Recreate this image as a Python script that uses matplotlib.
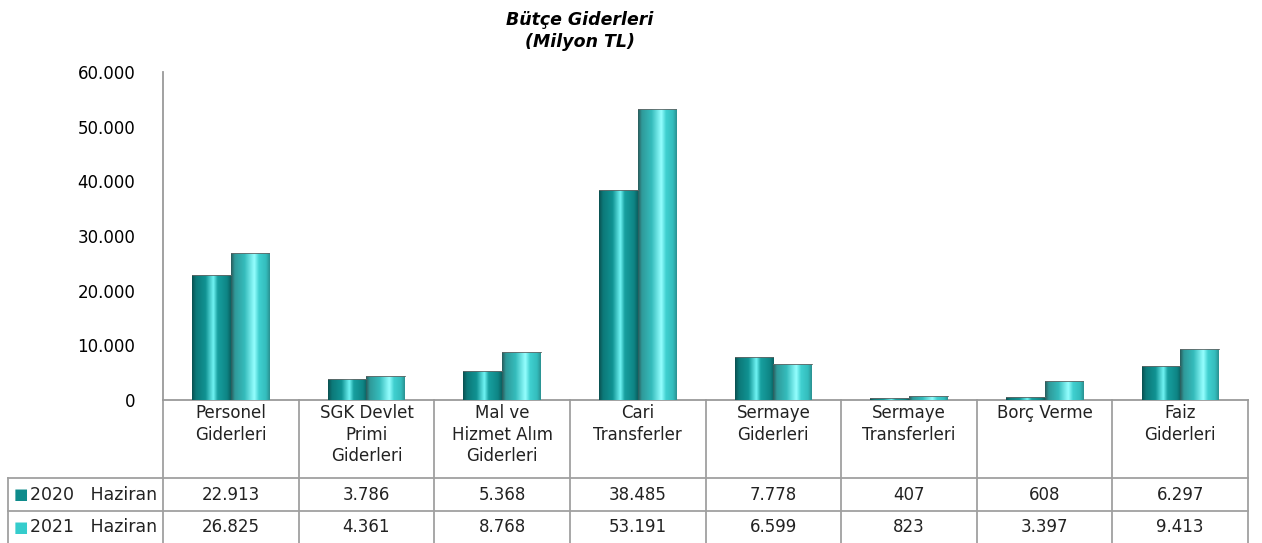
import numpy as np
import matplotlib
matplotlib.use("Agg")
import matplotlib.pyplot as plt
from matplotlib.colors import LinearSegmentedColormap

categories = ["Personel\nGiderleri", "SGK Devlet\nPrimi\nGiderleri", "Mal ve\nHizmet Alım\nGiderleri",
              "Cari\nTransferler", "Sermaye\nGiderleri", "Sermaye\nTransferleri", "Borç Verme", "Faiz\nGiderleri"]
series_names = ["2020   Haziran", "2021   Haziran"]
values_2020 = [22913, 3786, 5368, 38485, 7778, 407, 608, 6297]
values_2021 = [26825, 4361, 8768, 53191, 6599, 823, 3397, 9413]
yticks = [0, 10000, 20000, 30000, 40000, 50000, 60000]

plt.rcParams['font.family'] = ['DejaVu Sans']
W, H = 1262, 543
fig = plt.figure(figsize=(W / 100, H / 100), dpi=100)
L, R, B, T = 163, 1248, 400, 72
ax = fig.add_axes([L / W, 1 - B / H, (R - L) / W, (B - T) / H])

n = len(categories)
x = np.arange(n)
bw = 0.285
series = [values_2020, values_2021]
offs = [-bw / 2, bw / 2]
face = ["#0e8b8b", "#35cccc"]
cmaps = [
    LinearSegmentedColormap.from_list("c0", [(0, "#0a4f4f"), (0.1, "#0c7878"), (0.35, "#109393"),
                                             (0.55, "#70f4f4"), (0.66, "#17a0a0"), (0.9, "#0e8585"), (1, "#0a6060")]),
    LinearSegmentedColormap.from_list("c1", [(0, "#2a5a5a"), (0.1, "#2f9a9a"), (0.35, "#35bcbc"),
                                             (0.6, "#95ffff"), (0.72, "#40d0d0"), (0.9, "#34bdbd"), (1, "#2a9090")]),
]
grad = np.linspace(0, 1, 256).reshape(1, -1)
for s, vals in enumerate(series):
    bars = ax.bar(x + offs[s], vals, width=bw, color=face[s], edgecolor="none", zorder=2)
    for p in bars:
        x0, y0 = p.get_x(), p.get_y()
        w, h = p.get_width(), p.get_height()
        im = ax.imshow(grad, cmap=cmaps[s], extent=(x0, x0 + w, y0, y0 + h),
                       aspect="auto", zorder=3, interpolation="bilinear")
        im.set_clip_path(p)
        ax.plot([x0, x0 + w], [y0 + h, y0 + h], color="#666666", lw=0.6, zorder=4)

ax.set_xlim(-0.5, n - 0.5)
ax.set_ylim(0, 60000)
ax.set_yticks(yticks)
ax.set_yticklabels([f"{v:,}".replace(",", ".") for v in yticks], fontsize=12)
ax.tick_params(axis="y", length=0, pad=20)
ax.set_xticks([])
for sp in ["top", "right"]:
    ax.spines[sp].set_visible(False)
for sp in ["left", "bottom"]:
    ax.spines[sp].set_color("#9a9a9a")
    ax.spines[sp].set_linewidth(1.3)

# table
ph = B - T
def yf(py):
    return (B - py) / ph
y_head = yf(478)
y_r1 = yf(511)
y_r2 = yf(545)
trans = ax.get_xaxis_transform()
lc = "#a0a0a0"
left_x = (8 - L) / ((R - L) / n) - 0.5
for b in np.arange(-0.5, n + 0.5, 1.0):
    ax.plot([b, b], [0, y_r2], color=lc, lw=1.3, transform=trans, clip_on=False)
ax.plot([left_x, left_x], [y_head, y_r2], color=lc, lw=1.3, transform=trans, clip_on=False)
for yy in [y_head, y_r1]:
    ax.plot([left_x, n - 0.5], [yy, yy], color=lc, lw=1.3, transform=trans, clip_on=False)

for i, c in enumerate(categories):
    ax.text(i, yf(404), c, ha="center", va="top", fontsize=12, transform=trans,
            linespacing=1.25, color="#222222")
for s, vals in enumerate(series):
    ry = 1 - ((478 + 511) / 2 + s * 33) / H
    for i, v in enumerate(vals):
        ax.text(i, yf((478 + 511) / 2 + s * 33), f"{v:,}".replace(",", "."), ha="center", va="center",
                fontsize=12, transform=trans, color="#222222")
    fig.text(14 / W, ry, "■", color=face[s], fontsize=11,
             ha="left", va="center")
    fig.text(30 / W, ry, series_names[s], fontsize=12.5,
             ha="left", va="center", color="#222222")

fig.text(580 / W, 1 - 31 / H, "Bütçe Giderleri\n(Milyon TL)", ha="center", va="center",
         fontsize=12.5, fontweight="bold", fontstyle="italic", linespacing=1.3)

fig.savefig("out.png", dpi=100)
